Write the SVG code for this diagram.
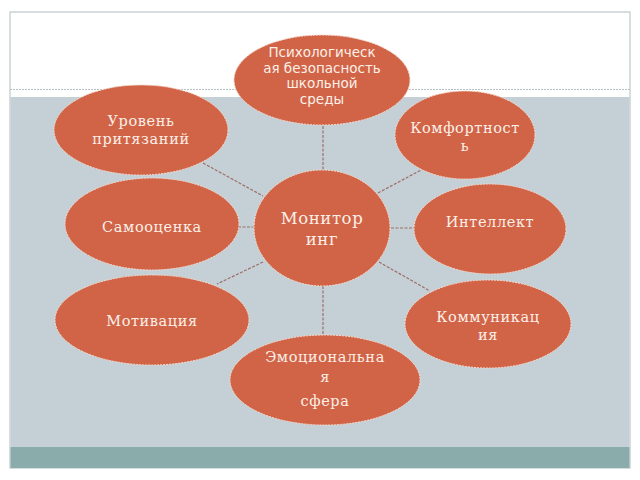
<svg xmlns="http://www.w3.org/2000/svg" width="640" height="480" viewBox="0 0 640 480">
<style>
.node ellipse{fill:#d16447;stroke:#f5d9cc;stroke-width:1;stroke-dasharray:2 1}
.node text{fill:#fbf0e8;font-family:"DejaVu Serif","Liberation Serif",serif;font-size:14.5px;letter-spacing:0.6px;text-anchor:middle}
.node text.sans{font-family:"DejaVu Sans","Liberation Sans",sans-serif;font-size:13.5px;letter-spacing:0}
.node text.big{font-size:16.5px}
#connectors line{stroke:#9c6e66;stroke-width:1.2;stroke-dasharray:3 1.5}
</style>
<rect x="0" y="0" width="640" height="480" fill="#ffffff"/>
<rect x="10" y="12" width="620" height="456" fill="#ffffff" stroke="#c9d4d6" stroke-width="1.5"/>
<rect x="10.5" y="97" width="619" height="350" fill="#c5d0d6"/>
<line x1="10" y1="89.5" x2="630" y2="89.5" stroke="#b7c2c6" stroke-width="1" stroke-dasharray="2 1"/>
<rect x="10.5" y="447" width="619" height="21" fill="#8aacab"/>
<g id="connectors">
<line x1="323" y1="126" x2="323" y2="170"/>
<line x1="323" y1="286" x2="323" y2="336"/>
<line x1="238" y1="227" x2="254" y2="227"/>
<line x1="391" y1="228" x2="415" y2="228"/>
<line x1="203" y1="163" x2="263" y2="196"/>
<line x1="378" y1="193" x2="423" y2="169"/>
<line x1="263" y1="262" x2="217" y2="284"/>
<line x1="379" y1="262" x2="430" y2="291"/>
</g>
<g id="node-top" class="node">
<ellipse cx="322" cy="80" rx="88" ry="45"/>
<text class="sans" x="322" y="57">Психологическ</text>
<text class="sans" x="322" y="73">ая безопасность</text>
<text class="sans" x="322" y="88">школьной</text>
<text class="sans" x="322" y="104">среды</text>
</g>
<g id="node-uroven" class="node">
<ellipse cx="141" cy="130" rx="87" ry="45"/>
<text x="141" y="126">Уровень</text>
<text x="141" y="144">притязаний</text>
</g>
<g id="node-komfort" class="node">
<ellipse cx="465" cy="135" rx="70" ry="44"/>
<text x="465" y="133">Комфортност</text>
<text x="465" y="151">ь</text>
</g>
<g id="node-monitoring" class="node">
<ellipse cx="322" cy="228" rx="68" ry="58"/>
<text class="big" x="322" y="224">Монитор</text>
<text class="big" x="322" y="245">инг</text>
</g>
<g id="node-samoocenka" class="node">
<ellipse cx="152" cy="224" rx="87" ry="46"/>
<text x="152" y="232">Самооценка</text>
</g>
<g id="node-intellekt" class="node">
<ellipse cx="490" cy="229" rx="76" ry="45"/>
<text x="490" y="227">Интеллект</text>
</g>
<g id="node-motivacia" class="node">
<ellipse cx="152" cy="320" rx="97" ry="45"/>
<text x="152" y="326">Мотивация</text>
</g>
<g id="node-kommunikacia" class="node">
<ellipse cx="488" cy="324" rx="83" ry="44"/>
<text x="488" y="322">Коммуникац</text>
<text x="488" y="340">ия</text>
</g>
<g id="node-emocionalnaya" class="node">
<ellipse cx="325" cy="380" rx="95" ry="45"/>
<text x="325" y="362">Эмоциональна</text>
<text x="325" y="382">я</text>
<text x="325" y="406">сфера</text>
</g>
</svg>
